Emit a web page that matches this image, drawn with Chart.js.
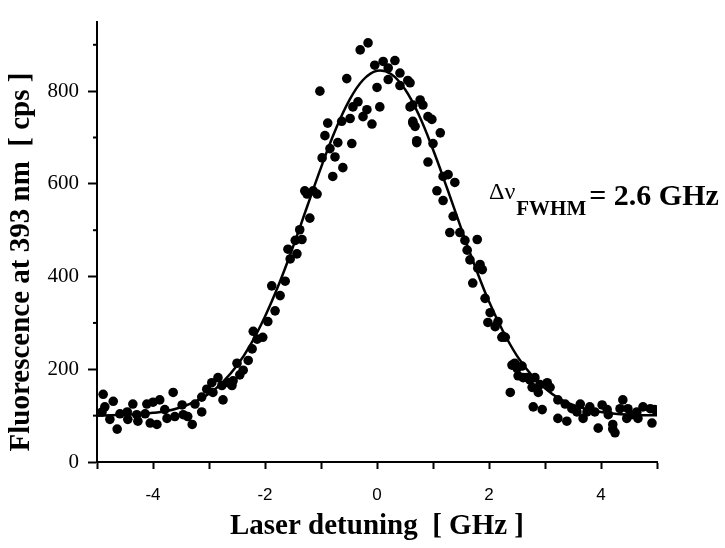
<!DOCTYPE html>
<html>
<head>
<meta charset="utf-8">
<script src="https://cdn.jsdelivr.net/npm/chart.js@4/dist/chart.umd.min.js"></script>
<style>
  html, body { margin: 0; padding: 0; background: #fff; }
  #wrap { width: 725px; height: 548px; }
</style>
</head>
<body>
<div id="wrap"><canvas id="fluo"></canvas></div>
<script>
// measured points: laser detuning (GHz) and fluorescence (cps)
const detuning = [
  -4.89, -4.71, -4.86, -4.91, -4.77, -4.64, -4.59, -4.46, -4.36, -4.45, -4.29, -4.27, -4.14, -4.11,
  -4.00, -4.05, -3.93, -3.88, -3.79, -3.75, -3.64, -3.61, -3.48, -3.46, -3.30, -3.38, -3.25, -3.13,
  -3.13, -3.04, -2.95, -2.93, -2.84, -2.75, -2.77, -2.66, -2.57, -2.59, -2.50, -2.45, -2.39, -2.30,
  -2.23, -2.21, -2.04, -2.14, -1.95, -1.82, -1.73, -1.88, -1.64, -1.55, -1.43, -1.59, -1.46, -1.34,
  -1.38, -1.20, -1.25, -1.07, -0.16, -0.30, -1.02, -0.54, -0.04, 0.11, 0.32, 0.20, 0.20, 0.00,
  0.41, 0.55, 0.41, -0.34, -0.18, 0.05, -0.25, -0.09, -0.48, -0.63, -0.88, -0.43, -0.93, -0.70,
  -0.45, -0.84, -0.98, -0.75, -0.61, -0.79, -1.14, -1.29, 0.59, 0.64, 0.71, 0.59, 0.77, 0.82,
  0.64, 0.64, 0.68, 0.91, 0.98, 1.13, 0.71, 1.00, 0.91, 1.18, 1.27, 1.39, 1.07, 1.18, 1.36,
  1.30, 1.48, 1.57, 1.79, 1.61, 1.66, 1.84, 1.80, 1.71, 1.88, 1.93, 2.02, 1.98, 2.16, 2.11,
  2.23, 2.29, 2.25, 2.38, 2.41, 2.50, 2.61, 2.73, 2.82, 2.77, 2.91, 3.04, 3.09, 2.79, 2.95,
  2.88, 3.23, 3.36, 3.23, 3.39, 3.48, 3.57, 3.63, 3.68, 3.80, 3.89, 3.95, 4.02, 4.11, 4.13,
  4.21, 4.25, 4.21, 4.39, 4.34, 4.48, 4.55, 4.66, 4.75, 4.88, 4.96, 4.91, 4.64, 4.46, 3.75,
  2.46, 2.59, 2.52, 2.68
];
const counts = [
  146, 131, 119, 108, 92, 71, 104, 108, 125, 92, 102, 88, 104, 125,
  129, 84, 81, 134, 113, 94, 150, 98, 123, 102, 81, 98, 125, 108,
  140, 157, 171, 150, 182, 134, 165, 171, 175, 165, 213, 188, 198, 219,
  244, 282, 269, 265, 303, 326, 359, 380, 390, 438, 449, 459, 478, 480,
  501, 526, 578, 578, 904, 889, 800, 827, 856, 864, 866, 850, 825, 808,
  839, 823, 812, 777, 760, 766, 745, 729, 741, 735, 731, 766, 704, 689,
  687, 676, 656, 658, 635, 616, 585, 585, 766, 731, 689, 818, 781, 770,
  770, 735, 724, 745, 739, 710, 693, 687, 647, 616, 620, 603, 585, 564, 530,
  495, 495, 478, 480, 457, 436, 426, 418, 386, 415, 353, 322, 301, 303, 292,
  269, 269, 271, 150, 209, 202, 182, 177, 182, 161, 167, 171, 161, 119, 113,
  150, 134, 125, 94, 88, 115, 108, 125, 94, 119, 108, 73, 123, 113, 102,
  71, 63, 81, 134, 115, 115, 102, 94, 119, 115, 113, 84, 108, 94, 108,
  213, 207, 186, 182
];

// fitted curve
const fitX = [
  -5, -4.75, -4.5, -4.25, -4, -3.75, -3.5, -3.25, -3, -2.75, -2.5, -2.25, -2, -1.75, -1.5, -1.25, -1,
  -0.75, -0.5, -0.25, 0, 0.25, 0.5, 0.75, 1, 1.25, 1.5, 1.75, 2, 2.25, 2.5, 2.75, 3, 3.25, 3.5,
  3.75, 4, 4.25, 4.5, 4.75, 5
];
const fitY = [
  100, 101, 102, 103, 106, 110, 118, 130, 147, 173, 208, 255, 314, 384, 464, 550, 635,
  714, 779, 824, 844, 837, 804, 748, 674, 591, 505, 422, 346, 282, 229, 189, 159, 137, 123,
  114, 108, 104, 102, 101, 101
];

const xTickLabels = [-4, -2, 0, 2, 4];
const yTickLabels = [0, 200, 400, 600, 800];

const serif = '"Liberation Serif", "Times New Roman", serif';
const sans = '"Liberation Sans", Arial, sans-serif';

// extra text and short minor ticks on the y axis
const extras = {
  id: 'extras',
  afterDraw(chart) {
    const c = chart.ctx;
    const ys = chart.scales.y;
    c.save();
    c.strokeStyle = '#000';
    c.lineWidth = 2;
    for (let v = 100; v <= 900; v += 200) {
      const py = ys.getPixelForValue(v);
      c.beginPath();
      c.moveTo(ys.right - 4, py);
      c.lineTo(ys.right, py);
      c.stroke();
    }

    // y axis title
    c.fillStyle = '#000';
    c.font = 'bold 29px ' + serif;
    c.textAlign = 'center';
    c.textBaseline = 'middle';
    c.translate(22, 262);
    c.rotate(-Math.PI / 2);
    c.fillText('Fluorescence at 393 nm  [ cps ]', 0, 0);
    c.restore();

    // linewidth annotation
    c.save();
    c.fillStyle = '#000';
    c.textAlign = 'left';
    c.textBaseline = 'alphabetic';
    let x = 489;
    c.font = '24px ' + serif;
    c.fillText('Δν', x, 199);
    x += c.measureText('Δν').width + 1;
    c.font = 'bold 21px ' + serif;
    c.fillText('FWHM', x, 215);
    x += c.measureText('FWHM').width + 3;
    c.font = 'bold 30px ' + serif;
    c.fillText('= 2.6 GHz', x, 205);
    c.restore();
  }
};

const points = detuning.map((d, i) => ({ x: d, y: counts[i] }));
const fit = fitX.map((d, i) => ({ x: d, y: fitY[i] }));

new Chart(document.getElementById('fluo'), {
  type: 'scatter',
  data: {
    datasets: [
      {
        label: 'fit',
        data: fit,
        showLine: true,
        borderColor: '#000',
        borderWidth: 2.5,
        pointRadius: 0,
        tension: 0.4,
        order: 2
      },
      {
        label: 'data',
        data: points,
        backgroundColor: '#000',
        borderWidth: 0,
        pointRadius: 4.8,
        order: 1
      }
    ]
  },
  options: {
    responsive: true,
    maintainAspectRatio: false,
    animation: false,
    layout: { padding: { left: 0, right: 68, top: 8, bottom: 0 } },
    plugins: {
      legend: { display: false },
      tooltip: { enabled: false }
    },
    scales: {
      x: {
        type: 'linear',
        min: -5,
        max: 5,
        border: { display: true, color: '#000', width: 2 },
        grid: { drawOnChartArea: false, drawTicks: true, tickLength: 7, tickColor: '#000', tickWidth: 2 },
        ticks: {
          stepSize: 1,
          color: '#000',
          padding: 16,
          maxRotation: 0,
          autoSkip: false,
          font: { family: sans, size: 17 },
          callback: v => (xTickLabels.includes(v) ? String(v) : '')
        },
        title: {
          display: true,
          text: 'Laser detuning  [ GHz ]',
          color: '#000',
          font: { family: serif, size: 29, weight: 'bold' },
          padding: { top: 0, bottom: 4 }
        },
        afterFit: s => { s.height = 86; }
      },
      y: {
        type: 'linear',
        min: 0,
        max: 950,
        border: { display: true, color: '#000', width: 2 },
        grid: {
          drawOnChartArea: false,
          drawTicks: true,
          tickLength: 9,
          tickWidth: 2,
          tickColor: ctx => (ctx.tick && ctx.tick.value % 200 === 0 ? '#000' : 'rgba(0,0,0,0)')
        },
        ticks: {
          stepSize: 100,
          color: '#000',
          padding: 9,
          autoSkip: false,
          font: { family: serif, size: 21 },
          callback: v => (yTickLabels.includes(v) ? String(v) : '')
        },
        afterFit: s => { s.width = 97; }
      }
    }
  },
  plugins: [extras]
});
</script>
</body>
</html>
